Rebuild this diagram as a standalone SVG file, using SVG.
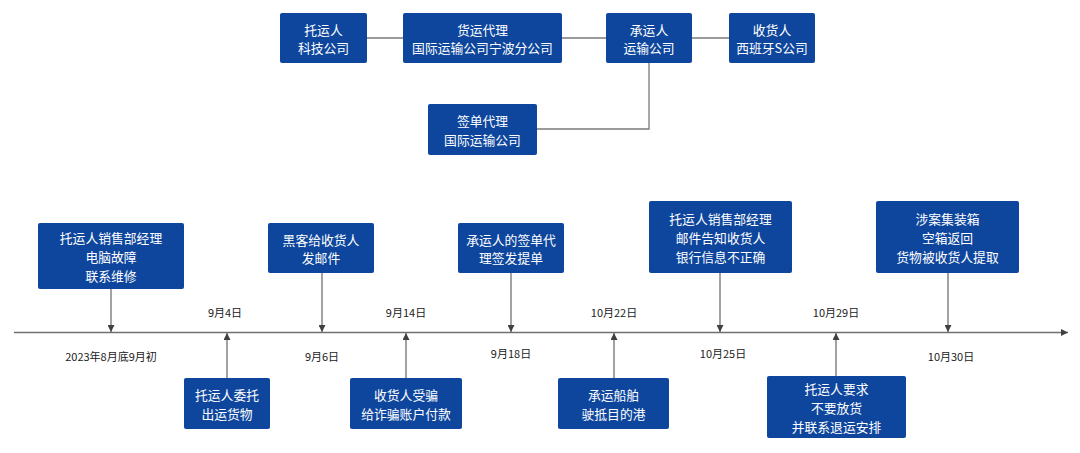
<svg xmlns="http://www.w3.org/2000/svg" width="1080" height="453" viewBox="0 0 1080 453">
<defs>
<style>
.box{fill:#0E469D;}
.t{font-family:"Noto Sans CJK SC","Noto Sans",sans-serif;font-size:12.8px;fill:#ffffff;text-anchor:middle;dominant-baseline:central;}
.d{font-family:"Noto Sans CJK SC","Noto Sans",sans-serif;font-size:11px;fill:#222222;text-anchor:middle;dominant-baseline:central;}
.ln{stroke:#7a7a7a;stroke-width:1.3;fill:none;}
.ar{stroke:#707070;stroke-width:1.3;fill:none;marker-end:url(#ah);}
</style>
<marker id="ah" viewBox="0 0 10 10" refX="10" refY="5" markerWidth="7" markerHeight="7" markerUnits="userSpaceOnUse" orient="auto">
<path d="M0,0 L10,5 L0,10 z" fill="#404040"/>
</marker>
</defs>
<rect width="1080" height="453" fill="#ffffff"/>

<g id="connectors">
<line class="ln" x1="367" y1="38" x2="403" y2="38"/>
<line class="ln" x1="562" y1="38" x2="606" y2="38"/>
<line class="ln" x1="692" y1="38" x2="729" y2="38"/>
<polyline class="ln" points="649,63 649,129 537,129"/>
<line class="ar" x1="14" y1="332.5" x2="1068" y2="332.5"/>
<line class="ar" x1="111" y1="289" x2="111" y2="332"/>
<line class="ar" x1="322" y1="273" x2="322" y2="332"/>
<line class="ar" x1="511" y1="273" x2="511" y2="332"/>
<line class="ar" x1="720" y1="273" x2="720" y2="332"/>
<line class="ar" x1="948" y1="273" x2="948" y2="332"/>
<line class="ar" x1="227" y1="378" x2="227" y2="333"/>
<line class="ar" x1="406" y1="378" x2="406" y2="333"/>
<line class="ar" x1="614" y1="378" x2="614" y2="333"/>
<line class="ar" x1="836" y1="376" x2="836" y2="333"/>
</g>

<g id="n-shipper">
<rect class="box" x="280" y="13" width="87" height="50" rx="2"/>
<text class="t" x="323.5" y="28.7"><tspan x="323.5">托运人</tspan><tspan x="323.5" dy="18.6">科技公司</tspan></text>
</g>
<g id="n-forwarder">
<rect class="box" x="403" y="13" width="159" height="50" rx="2"/>
<text class="t" x="482.5" y="28.7"><tspan x="482.5">货运代理</tspan><tspan x="482.5" dy="18.6">国际运输公司宁波分公司</tspan></text>
</g>
<g id="n-carrier">
<rect class="box" x="606" y="13" width="86" height="50" rx="2"/>
<text class="t" x="649" y="28.7"><tspan x="649">承运人</tspan><tspan x="649" dy="18.6">运输公司</tspan></text>
</g>
<g id="n-consignee">
<rect class="box" x="729" y="13" width="86" height="50" rx="2"/>
<text class="t" x="772" y="28.7"><tspan x="772">收货人</tspan><tspan x="772" dy="18.6">西班牙S公司</tspan></text>
</g>
<g id="n-signagent">
<rect class="box" x="428" y="104" width="109" height="51" rx="2"/>
<text class="t" x="482.5" y="120.2"><tspan x="482.5">签单代理</tspan><tspan x="482.5" dy="18.6">国际运输公司</tspan></text>
</g>

<g id="e1">
<rect class="box" x="38" y="223" width="146" height="66" rx="2"/>
<text class="t" x="111" y="237.4"><tspan x="111">托运人销售部经理</tspan><tspan x="111" dy="18.6">电脑故障</tspan><tspan x="111" dy="18.6">联系维修</tspan></text>
<text class="d" x="111" y="355.5">2023年8月底9月初</text>
</g>
<g id="e2">
<rect class="box" x="184" y="378" width="86" height="51" rx="2"/>
<text class="t" x="227" y="394.2"><tspan x="227">托运人委托</tspan><tspan x="227" dy="18.6">出运货物</tspan></text>
<text class="d" x="225" y="311.5">9月4日</text>
</g>
<g id="e3">
<rect class="box" x="268" y="223" width="106" height="50" rx="2"/>
<text class="t" x="321" y="238.7"><tspan x="321">黑客给收货人</tspan><tspan x="321" dy="18.6">发邮件</tspan></text>
<text class="d" x="322" y="355.5">9月6日</text>
</g>
<g id="e4">
<rect class="box" x="350" y="378" width="112" height="51" rx="2"/>
<text class="t" x="406" y="394.2"><tspan x="406">收货人受骗</tspan><tspan x="406" dy="18.6">给诈骗账户付款</tspan></text>
<text class="d" x="406" y="311.5">9月14日</text>
</g>
<g id="e5">
<rect class="box" x="458" y="223" width="106" height="50" rx="2"/>
<text class="t" x="511" y="238.7"><tspan x="511">承运人的签单代</tspan><tspan x="511" dy="18.6">理签发提单</tspan></text>
<text class="d" x="511" y="352.5">9月18日</text>
</g>
<g id="e6">
<rect class="box" x="558" y="378" width="111" height="51" rx="2"/>
<text class="t" x="613.5" y="394.2"><tspan x="613.5">承运船舶</tspan><tspan x="613.5" dy="18.6">驶抵目的港</tspan></text>
<text class="d" x="614" y="311.5">10月22日</text>
</g>
<g id="e7">
<rect class="box" x="649" y="201" width="143" height="72" rx="2"/>
<text class="t" x="720.5" y="218.4"><tspan x="720.5">托运人销售部经理</tspan><tspan x="720.5" dy="18.6">邮件告知收货人</tspan><tspan x="720.5" dy="18.6">银行信息不正确</tspan></text>
<text class="d" x="723" y="352.5">10月25日</text>
</g>
<g id="e8">
<rect class="box" x="767" y="376" width="139" height="62" rx="2"/>
<text class="t" x="836.5" y="388.4"><tspan x="836.5">托运人要求</tspan><tspan x="836.5" dy="18.6">不要放货</tspan><tspan x="836.5" dy="18.6">并联系退运安排</tspan></text>
<text class="d" x="836" y="311.5">10月29日</text>
</g>
<g id="e9">
<rect class="box" x="876" y="201" width="143" height="72" rx="2"/>
<text class="t" x="947.5" y="218.4"><tspan x="947.5">涉案集装箱</tspan><tspan x="947.5" dy="18.6">空箱返回</tspan><tspan x="947.5" dy="18.6">货物被收货人提取</tspan></text>
<text class="d" x="951" y="355.5">10月30日</text>
</g>
</svg>
